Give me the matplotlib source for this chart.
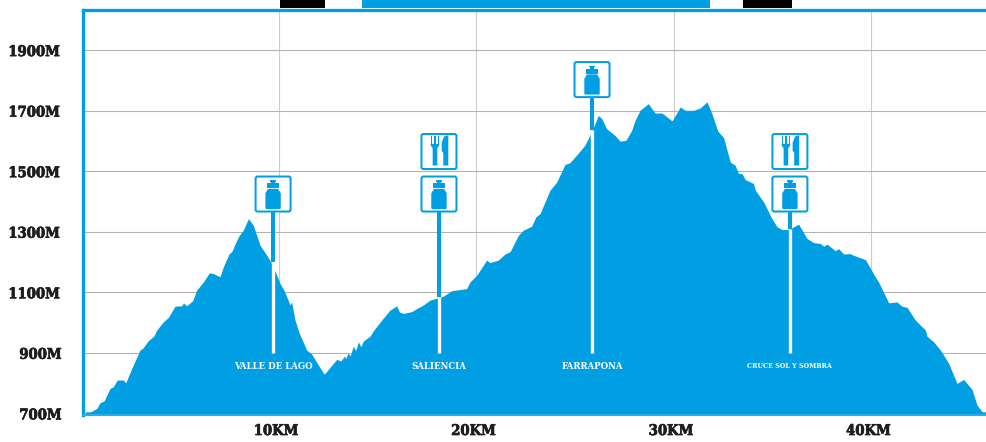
#!/usr/bin/env python3
# -*- coding: utf-8 -*-
import matplotlib
matplotlib.use("Agg")
import matplotlib.pyplot as plt
import matplotlib.patheffects as pe
from matplotlib.patches import FancyBboxPatch, Polygon, Rectangle
from matplotlib.transforms import Affine2D

# profile: distance (km) and height (m)
km = [0.18, 0.46, 0.77, 0.94, 1.14, 1.44, 1.61, 1.81, 2.12, 2.24, 2.54, 2.96, 3.10, 3.38, 3.67, 3.81,
      4.14, 4.40, 4.73, 5.07, 5.16, 5.32, 5.63, 5.83, 6.17, 6.47, 6.67, 7.01, 7.18, 7.48, 7.60, 7.82,
      7.99, 8.19, 8.45, 8.70, 9.04, 9.38, 9.63, 9.88, 10.05, 10.25, 10.56, 10.64, 10.81, 11.03, 11.40,
      11.65, 11.99, 12.28, 12.33, 12.67, 12.92, 13.14, 13.31, 13.38, 13.51, 13.60, 13.76, 13.88, 14.02,
      14.15, 14.27, 14.61, 14.78, 15.20, 15.62, 15.96, 16.09, 16.30, 16.72, 16.97, 17.31, 17.65, 18.07, 18.32,
      18.74, 19.50, 19.67, 20.01, 20.51, 20.68, 21.10, 21.44, 21.70, 22.12, 22.37, 22.79, 23.01, 23.22,
      23.72, 24.06, 24.48, 24.73, 25.16, 25.49, 25.83, 26.17, 26.34, 26.59, 27.01, 27.27, 27.57, 27.86,
      28.03, 28.28, 28.70, 29.04, 29.39, 29.90, 30.32, 30.57, 31.00, 31.33, 31.67, 31.92, 32.21, 32.51,
      32.85, 33.10, 33.27, 33.44, 33.61, 34.03, 34.12, 34.54, 34.96, 35.22, 35.47, 35.81, 36.31, 36.73,
      37.07, 37.41, 37.58, 37.75, 38.17, 38.34, 38.59, 38.89, 39.10, 39.69, 40.19, 40.36, 40.87, 41.29,
      41.54, 41.80, 42.22, 42.73, 42.81, 43.15, 43.49, 43.91, 44.33, 44.67, 45.09, 45.34, 45.60, 45.85]
height = [705, 705, 716, 735, 741, 782, 788, 810, 810, 801, 848, 909, 915, 940, 956, 975,
          1002, 1017, 1054, 1055, 1065, 1055, 1072, 1107, 1134, 1164, 1162, 1151, 1184, 1228, 1233, 1266,
          1288, 1305, 1343, 1321, 1255, 1222, 1195, 1157, 1129, 1107, 1058, 1068, 1008, 964, 909,
          896, 860, 830, 832, 859, 878, 873, 889, 881, 900, 889, 922, 907, 936,
          920, 939, 955, 973, 1008, 1041, 1055, 1035, 1030, 1036, 1046, 1058, 1074, 1082, 1087,
          1105, 1112, 1134, 1156, 1206, 1198, 1206, 1226, 1234, 1288, 1305, 1318, 1349, 1360,
          1437, 1464, 1522, 1528, 1560, 1586, 1630, 1684, 1674, 1640, 1618, 1599, 1602, 1635,
          1668, 1701, 1723, 1692, 1692, 1666, 1712, 1701, 1701, 1709, 1729, 1690, 1633, 1611,
          1530, 1519, 1492, 1492, 1472, 1459, 1437, 1398, 1343, 1316, 1307, 1307, 1325, 1278,
          1264, 1261, 1252, 1259, 1237, 1244, 1226, 1228, 1222, 1208, 1151, 1134, 1065, 1068,
          1054, 1050, 1008, 975, 955, 936, 909, 865, 799, 812, 779, 728, 705, 705]

y_ticks = [700, 900, 1100, 1300, 1500, 1700, 1900]
y_labels = ["700M", "900M", "1100M", "1300M", "1500M", "1700M", "1900M"]
x_ticks = [10, 20, 30, 40]
x_labels = ["10KM", "20KM", "30KM", "40KM"]

stations = ["VALLE DE LAGO", "SALIENCIA", "FARRAPONA", "CRUCE SOL Y SOMBRA"]
station_km = [9.7, 18.1, 25.85, 35.87]
station_m = [1200, 1085, 1635, 1310]
sign_m = [1364, 1364, 1742, 1364]
has_food = [False, True, False, True]

BLUE = "#009fe3"
DARK = "#1d1d1b"
W, H = 987, 442
PX = 72 / 100  # one pixel in points


def px_axes(left, top, right, bottom):
    return [left / W, 1 - bottom / H, (right - left) / W, (bottom - top) / H]


def box(ax, trans, base):
    ax.add_patch(FancyBboxPatch((-17.5, base + 0.8), 35, 35, boxstyle="round,pad=0,rounding_size=2",
                                fc="white", ec=BLUE, lw=2 * PX, transform=trans, zorder=6))


def bottle(ax, trans, base):
    pts = [(-7.7, 4), (-7, 3.3), (7, 3.3), (7.7, 4), (7.7, 19), (5, 23.5), (-5, 23.5), (-7.7, 19)]
    ax.add_patch(Polygon([(x, y + base) for x, y in pts], fc=BLUE, ec="none", transform=trans, zorder=7))
    for x0, y0, w, h in [(-5.7, 24, 11.4, 5), (-1.7, 29, 3.4, 1.8), (-3.3, 30.7, 6.6, 1.6)]:
        ax.add_patch(Rectangle((x0, y0 + base), w, h, fc=BLUE, ec="none", transform=trans, zorder=7))


def cutlery(ax, trans, base):
    # fork
    for x0 in [-8.3, -4.8, -1.4]:
        ax.add_patch(Rectangle((x0, 25 + base), 1.7, 8.5, fc=BLUE, ec="none", transform=trans, zorder=7))
    fork = [(-8.3, 26), (0.3, 26), (0.3, 24.5), (-1.7, 21.5), (-1.7, 4.3), (-6.3, 4.3), (-6.3, 21.5), (-8.3, 24.5)]
    ax.add_patch(Polygon([(x, y + base) for x, y in fork], fc=BLUE, ec="none", transform=trans, zorder=7))
    # knife
    knife = [(9.3, 4.3), (4.3, 4.3), (4.3, 17), (2.7, 19), (2.7, 27), (5, 33), (7, 34.3), (9.3, 34.3)]
    ax.add_patch(Polygon([(x, y + base) for x, y in knife], fc=BLUE, ec="none", transform=trans, zorder=7))


fig = plt.figure(figsize=(W / 100, H / 100), dpi=100)
ax = fig.add_axes(px_axes(83.3, 9.8, 987, 415))
ax.set_xlim(0.09, 45.85)
ax.set_ylim(694.5, 2033)

ax.fill_between(km, height, 690, color=BLUE, lw=0, zorder=3)

ax.set_yticks(y_ticks[1:])
ax.set_xticks(x_ticks)
ax.tick_params(length=0, labelleft=False, labelbottom=False)
ax.grid(axis="y", color="#b2b2b2", lw=1.1 * PX, zorder=1)
ax.grid(axis="x", color="#cccccc", lw=1.1 * PX, zorder=1)

for s in ["left", "top", "right"]:
    ax.spines[s].set_color(BLUE)
    ax.spines[s].set_linewidth(3.3 * PX)
ax.spines["bottom"].set_color("#38b1e8")
ax.spines["bottom"].set_linewidth(1.5 * PX)
ax.spines["right"].set_visible(False)
for s in ax.spines.values():
    s.set_zorder(5)

# bits of the page header cut off at the top
for x0, x1, c in [(280, 325, "black"), (362, 710, BLUE), (743, 792, "black")]:
    fig.add_artist(Rectangle((x0 / W, 1 - 8 / H), (x1 - x0) / W, 8 / H, fc=c, ec="none",
                             transform=fig.transFigure))

font = dict(family="DejaVu Serif", stretch="condensed", fontweight="bold")
heavy = [pe.withStroke(linewidth=0.5, foreground=DARK)]

for v, lab in zip(y_ticks, y_labels):
    xpos = 8.3 if len(lab) == 5 else 19.3
    ax.annotate(lab, xy=(0, v), xycoords=ax.get_yaxis_transform(), xytext=(xpos - 83.3, -2),
                textcoords="offset pixels", ha="left", va="center", fontsize=10.6, color=DARK,
                annotation_clip=False, path_effects=heavy, **font)
for v, lab in zip(x_ticks, x_labels):
    ax.annotate(lab, xy=(v, 0), xycoords=ax.get_xaxis_transform(), xytext=(-3, -16),
                textcoords="offset pixels", ha="center", va="center", fontsize=10.6, color=DARK,
                annotation_clip=False, path_effects=heavy, **font)

for name, k, m, top, food in zip(stations, station_km, station_m, sign_m, has_food):
    ax.plot([k, k], [900, m], color="white", lw=3.3 * PX, solid_capstyle="butt", zorder=4)
    ax.plot([k, k], [m, top], color=BLUE, lw=4 * PX, solid_capstyle="butt", zorder=4)
    size = 5.1 if len(name) > 13 else 6.8
    ax.text(k, 856, name, ha="center", va="center", color="white", fontsize=size, zorder=6, **font)
    x, y = ax.transData.transform((k, top))
    trans = Affine2D().translate(x, y)
    box(ax, trans, 0)
    bottle(ax, trans, 0)
    if food:
        box(ax, trans, 42.5)
        cutlery(ax, trans, 42.5)

fig.savefig("out.png", dpi=100)
